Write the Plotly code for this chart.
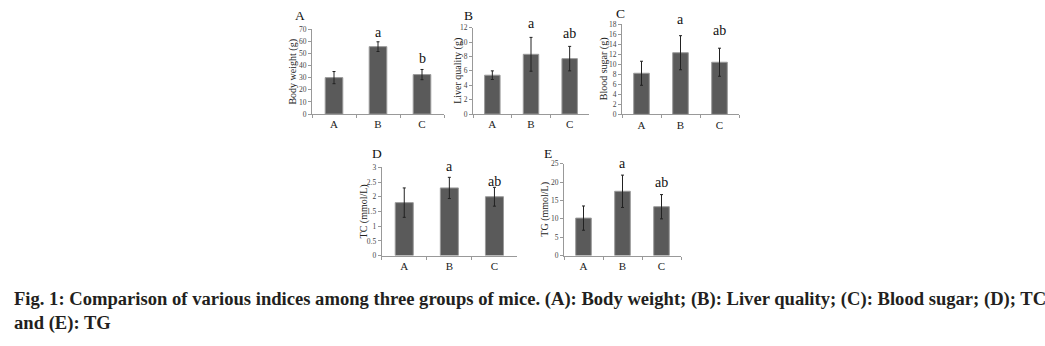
import plotly.graph_objects as go

W, H = 1045, 346

groups = ["A", "B", "C"]

# panel data: means and error (±)
body_weight = [30.0, 55.5, 32.5]
body_weight_err = [5.0, 4.0, 4.2]
liver_quality = [5.4, 8.3, 7.7]
liver_quality_err = [0.6, 2.35, 1.7]
blood_sugar = [8.2, 12.3, 10.4]
blood_sugar_err = [2.4, 3.4, 2.8]
tc = [1.8, 2.3, 2.0]
tc_err = [0.5, 0.36, 0.32]
tg = [10.2, 17.5, 13.3]
tg_err = [3.3, 4.4, 3.3]

panel_titles = ["A", "B", "C", "D", "E"]
y_titles = ["Body weight (g)", "Liver quality (g)", "Blood sugar (g)", "TC (mmol/L)", "TG (mmol/L)"]
y_max = [70, 12, 18, 3, 25]
y_dtick = [10, 2, 2, 0.5, 5]
sig_letters = [["", "a", "b"], ["", "a", "ab"], ["", "a", "ab"], ["", "a", "ab"], ["", "a", "ab"]]

values = [body_weight, liver_quality, blood_sugar, tc, tg]
errors = [body_weight_err, liver_quality_err, blood_sugar_err, tc_err, tg_err]

# layout (pixels): x0, x1, ytop, ybottom
boxes = [
    (312, 444, 25.7, 113),
    (473, 589, 24.3, 113),
    (622, 739, 20.7, 113.3),
    (381.7, 517, 167.7, 258.3),
    (564, 681, 164, 258.3),
]
title_pos = [(300, 12), (468, 12), (620, 10), (377, 153), (548, 153)]
ylab_x = [293, 458, 604, 364, 545]
letter_shift = [(0, 1), (4, 3), (7, 8), (1, -4), (2, 3)]

fig = go.Figure()
annotations = []
for i in range(5):
    x0, x1, yt, yb = boxes[i]
    xa = "x" if i == 0 else f"x{i+1}"
    ya = "y" if i == 0 else f"y{i+1}"
    fig.add_trace(go.Bar(
        x=groups, y=values[i], xaxis=xa, yaxis=ya,
        marker=dict(color="#5a5a5a", line=dict(color="#9a9a9a", width=1)),
        error_y=dict(type="data", array=errors[i], color="#222222", thickness=1, width=1.5),
        width=0.4, showlegend=False,
    ))
    xkey = "xaxis" if i == 0 else f"xaxis{i+1}"
    ykey = "yaxis" if i == 0 else f"yaxis{i+1}"
    fig.layout[xkey] = dict(
        domain=[x0 / W, x1 / W], anchor=ya, type="category",
        showline=True, linecolor="#999999", linewidth=1,
        ticks="outside", tickson="boundaries", ticklen=3, tickcolor="#999999",
        tickfont=dict(family="Liberation Serif", size=11, color="#222"),
        showgrid=False, zeroline=False, fixedrange=True,
    )
    fig.layout[ykey] = dict(
        domain=[1 - yb / H, 1 - yt / H], anchor=xa, range=[0, y_max[i]],
        dtick=y_dtick[i], showline=True, linecolor="#999999", linewidth=1,
        ticks="outside", ticklen=3, tickcolor="#999999",
        tickfont=dict(family="Liberation Serif", size=7.5, color="#444"),
        showgrid=False, zeroline=False, fixedrange=True,
    )
    # panel title
    annotations.append(dict(x=title_pos[i][0] / W, y=1 - title_pos[i][1] / H, xref="paper", yref="paper",
                            xanchor="center", yanchor="middle",
                            text=panel_titles[i], showarrow=False,
                            font=dict(family="Liberation Serif", size=13.5, color="#111")))
    # y axis title
    annotations.append(dict(x=ylab_x[i] / W, y=1 - ((yt + yb) / 2) / H, xref="paper", yref="paper",
                            xanchor="center", yanchor="middle",
                            text=y_titles[i], textangle=-90, showarrow=False,
                            font=dict(family="Liberation Serif", size=10, color="#222")))
    # significance letters
    for j, g in enumerate(groups):
        lt = sig_letters[i][j]
        if lt:
            sh = letter_shift[i][j - 1]
            annotations.append(dict(x=g, y=values[i][j] + errors[i][j], xref=xa, yref=ya,
                                    text=lt, showarrow=False, xanchor="center", yanchor="bottom", yshift=sh,
                                    font=dict(family="Liberation Serif", size=14, color="#111")))

caption1 = "Fig. 1: Comparison of various indices among three groups of mice. (A): Body weight; (B): Liver quality; (C): Blood sugar; (D); TC"
caption2 = "and (E): TG"
annotations.append(dict(x=12 / W, y=1 - 303 / H, xref="paper", yref="paper", xanchor="left", yanchor="middle",
                        text=f"<b>{caption1}</b>", showarrow=False,
                        font=dict(family="Liberation Serif", size=18.6, color="#231f20")))
annotations.append(dict(x=12 / W, y=1 - 328 / H, xref="paper", yref="paper", xanchor="left", yanchor="middle",
                        text=f"<b>{caption2}</b>", showarrow=False,
                        font=dict(family="Liberation Serif", size=18.6, color="#231f20")))

fig.update_layout(
    width=W, height=H, margin=dict(l=0, r=0, t=0, b=0),
    paper_bgcolor="white", plot_bgcolor="white",
    annotations=annotations, bargap=0.6,
)
fig.write_html("out.html", config={"displayModeBar": False})
